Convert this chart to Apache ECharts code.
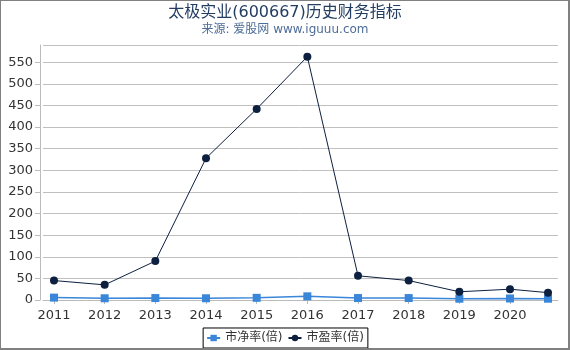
<!DOCTYPE html>
<html>
<head>
<meta charset="utf-8">
<script src="https://cdn.jsdelivr.net/npm/echarts@6/dist/echarts.min.js"></script>
<style>
html,body{margin:0;padding:0;background:#fff;}
#frame{position:absolute;left:0;top:0;width:567px;height:347px;border-left:1px solid #808080;border-top:1px solid #808080;border-right:2px solid #808080;border-bottom:2px solid #808080;}
#chart{position:absolute;left:0;top:0;width:570px;height:350px;}
</style>
</head>
<body>
<div id="chart"></div>
<div id="frame"></div>
<script>
var titleText = '太极实业(600667)历史财务指标';
var subText = '来源: 爱股网 www.iguuu.com';
var xPositions = [2011, 2012, 2013, 2014, 2015, 2016, 2017, 2018, 2019, 2020, 2020.75];
var peValues = [45, 35, 90, 328, 442, 563, 56, 45, 19, 25, 17];
var pbValues = [5.5, 4, 4.5, 4, 5, 8.5, 4.5, 4.5, 3, 3.5, 3];
var seriesNames = ['市净率(倍)', '市盈率(倍)'];

function pairs(xs, ys){ return xs.map(function(x,i){ return [x, ys[i]]; }); }

var font = '"DejaVu Sans", "Noto Sans CJK SC", sans-serif';
var chart = echarts.init(document.getElementById('chart'), null, {renderer:'canvas'});
chart.setOption({
  animation:false,
  backgroundColor:'#fff',
  title:{
    text:titleText, subtext:subText, left:'center', top:0, itemGap:3,
    textStyle:{fontSize:16, fontWeight:'normal', color:'#233d63', fontFamily:font},
    subtextStyle:{fontSize:12, color:'#4e6d98', fontFamily:font}
  },
  legend:{
    bottom:2, left:'center', borderColor:'#000', borderWidth:1, padding:[4,4,4,3], itemGap:5,
    itemWidth:13, itemHeight:8,
    textStyle:{fontSize:12, color:'#333', fontFamily:font},
    data:seriesNames
  },
  grid:{left:43, right:12, top:45, bottom:50, containLabel:false},
  xAxis:{
    type:'value', min:2010.783, max:2020.947, minInterval:1, maxInterval:1,
    offset:4,
    axisLine:{show:true, lineStyle:{color:'#bbbbbb'}},
    axisTick:{show:true, length:4, lineStyle:{color:'#bbbbbb'}},
    splitLine:{show:false},
    axisLabel:{margin:5, fontSize:13, color:'#333', fontFamily:font,
      showMinLabel:false, showMaxLabel:false,
      formatter:function(v){ return Math.abs(v-Math.round(v))<1e-6 ? String(Math.round(v)) : ''; }}
  },
  yAxis:{
    type:'value', min:0, max:590, interval:50, offset:3,
    axisLine:{show:true, lineStyle:{color:'#bbbbbb'}},
    axisTick:{show:true, length:5, lineStyle:{color:'#bbbbbb'}},
    splitLine:{show:true, lineStyle:{color:'#c0c0c0'}},
    axisLabel:{margin:7, fontSize:13, color:'#333', fontFamily:font, showMaxLabel:false}
  },
  series:[
    {name:seriesNames[0], type:'line', data:pairs(xPositions, pbValues),
     symbol:'rect', symbolSize:8, showAllSymbol:true,
     itemStyle:{color:'#3a86d9'}, lineStyle:{color:'#3a86d9', width:1.5}, z:3},
    {name:seriesNames[1], type:'line', data:pairs(xPositions, peValues),
     symbol:'circle', symbolSize:8, showAllSymbol:true,
     itemStyle:{color:'#0e2040'}, lineStyle:{color:'#0e2040', width:1}, z:4}
  ]
});
</script>
</body>
</html>
